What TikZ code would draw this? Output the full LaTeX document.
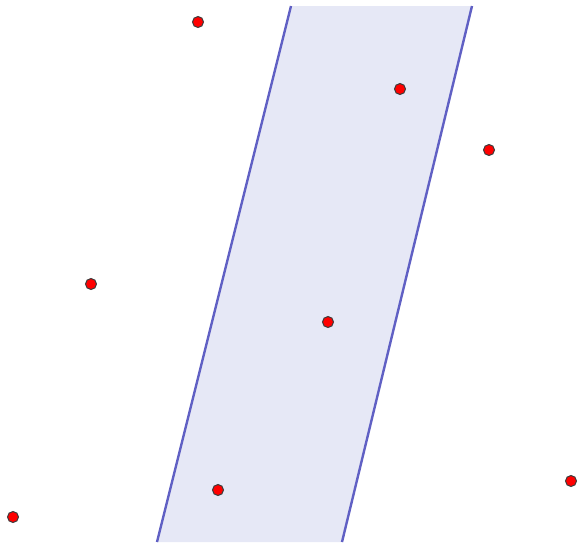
\documentclass[tikz,border=0pt]{standalone}
\usetikzlibrary{positioning}
\definecolor{bandfill}{RGB}{230,232,246}
\definecolor{bandline}{RGB}{96,96,196}
\definecolor{dotline}{RGB}{60,60,60}

\begin{document}
\begin{tikzpicture}[
  x=1pt, y=-1pt,
  band/.style={fill=bandfill, draw=none},
  edge/.style={draw=bandline, line width=2.4pt},
  dot/.style={circle, fill=red, draw=dotline, line width=1pt,
              inner sep=0pt, minimum size=11pt}]

  \useasboundingbox (0,0) rectangle (579,542);

  % strip corners
  \coordinate (tl) at (291,6);
  \coordinate (tr) at (472,6);
  \coordinate (bl) at (157,542);
  \coordinate (br) at (342,542);

  % strip
  \fill[band] (tl) -- (tr) -- (br) -- (bl) -- cycle;
  \draw[edge] (tl) -- (bl);
  \draw[edge] (tr) -- (br);

  % points
  \foreach \name/\x/\y in {p1/198/22, p2/400/89, p3/489/150, p4/91/284,
                           p5/328/322, p6/218/490, p7/13/517, p8/571/481}
    \node[dot] (\name) at (\x,\y) {};
\end{tikzpicture}
\end{document}
